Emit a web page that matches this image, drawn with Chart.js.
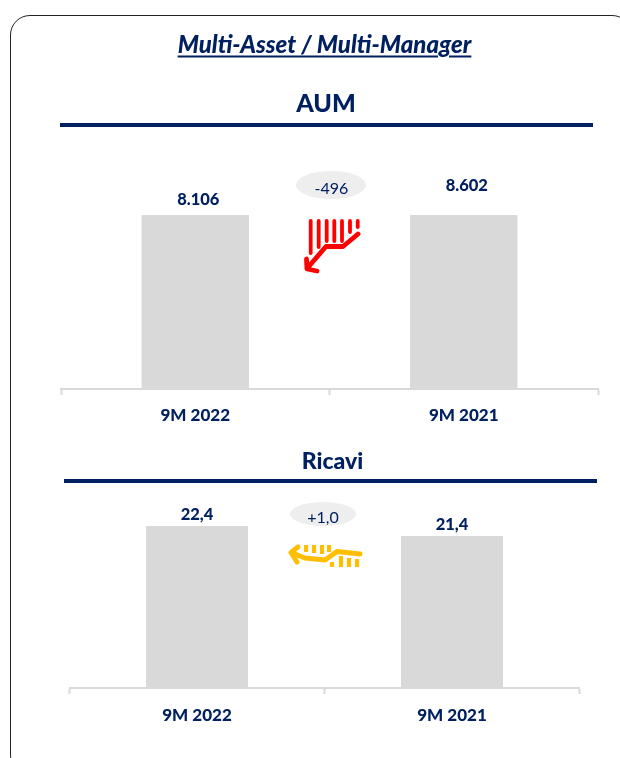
<!DOCTYPE html>
<html lang="it">
<head>
<meta charset="utf-8">
<script src="https://cdn.jsdelivr.net/npm/chart.js@4"></script>
<style>
  html,body{margin:0;padding:0;background:#fff}
  #page{position:relative;width:620px;height:758px;overflow:hidden;font-family:Lato,sans-serif;color:#002060}
  #frame{position:absolute;left:10px;top:15px;width:622px;height:760px;border:1.4px solid #222;border-radius:20px;box-sizing:border-box}
  canvas{position:absolute;left:0}
  .t{position:absolute;text-align:center;white-space:nowrap;transform:translate(-50%,-50%)}
  .rule{position:absolute;background:#002060}
  .oval{position:absolute;background:#eeeeee;border-radius:50%}
  svg{position:absolute;left:0;top:0}
</style>
</head>
<body>
<div id="page">
  <div id="frame"></div>
  <canvas id="aumChart" width="620" height="430" style="top:0;width:620px;height:430px"></canvas>
  <canvas id="ricaviChart" width="620" height="328" style="top:430px;width:620px;height:328px"></canvas>

  <div class="t" style="left:324.5px;top:43px;font:italic 900 24px Lato,sans-serif;text-decoration:underline;text-decoration-thickness:2px;text-underline-offset:3px">Multi-Asset / Multi-Manager</div>
  <div class="t" style="left:326px;top:102px;font:900 25px Lato,sans-serif">AUM</div>
  <div class="rule" style="left:60px;top:123px;width:533px;height:4px"></div>
  <div class="t" style="left:332.5px;top:460px;font:900 23px Lato,sans-serif">Ricavi</div>
  <div class="rule" style="left:64px;top:479px;width:533px;height:4px"></div>

  <div class="oval" style="left:296px;top:171px;width:70px;height:28px"></div>
  <div class="t" style="left:331.5px;top:187px;font:400 16px Lato,sans-serif">-496</div>
  <div class="oval" style="left:290px;top:502px;width:66px;height:24px"></div>
  <div class="t" style="left:323px;top:516px;font:400 16px Lato,sans-serif">+1,0</div>

  <svg width="620" height="758" viewBox="0 0 620 758">
    <g stroke="#ff0000" fill="none" stroke-linecap="round" stroke-linejoin="round">
      <g stroke-width="3.8">
        <path d="M310.7 221V253M318.7 221V247M326.7 221V241M334.3 221V241M342 221V241M350 221V232M357.7 221V227"/>
      </g>
      <path stroke-width="4.8" d="M358 234L343 246.5H326L307 268.5M306.5 259L307 269L317 271"/>
    </g>
    <g stroke="#ffbf00" fill="none" stroke-linejoin="round">
      <g stroke-width="4.2">
        <path d="M306 545V552M314 545V553M322 545V554M329 545V552M332 562V567M341 556V567M349 558V567M357 559V567"/>
      </g>
      <path stroke-width="5" stroke-linecap="round" d="M360 554L337 551.5L325 560L305 558L291 552.5M298 547L291 552.5L297 562"/>
    </g>
  </svg>
</div>
<script>
const categories = ['9M 2022', '9M 2021'];
const aumValues = [8106, 8602];
const aumLabels = ['8.106', '8.602'];
const ricaviCategories = ['9M 2022', '9M 2021'];
const ricaviValues = [22.4, 21.4];
const ricaviLabels = ['22,4', '21,4'];

const NAVY = '#002060', GREY = '#d9d9d9';

const valueLabels = {
  id: 'valueLabels',
  afterDatasetsDraw(chart, args, opts) {
    const { ctx } = chart;
    const meta = chart.getDatasetMeta(0);
    const y = chart.scales.y;
    ctx.save();
    ctx.font = '900 16.5px Lato, sans-serif';
    ctx.fillStyle = NAVY;
    ctx.textAlign = 'center';
    ctx.textBaseline = 'middle';
    meta.data.forEach((bar, i) => {
      ctx.fillText(opts.labels[i], bar.x + opts.dx, y.getPixelForValue(chart.data.datasets[0].data[i]) - opts.offset);
    });
    ctx.restore();
  }
};

function makeChart(id, labels, values, texts, cfg) {
  return new Chart(document.getElementById(id), {
    type: 'bar',
    data: { labels, datasets: [{ data: values, backgroundColor: GREY, borderWidth: 0, barPercentage: 0.4, categoryPercentage: 1 }] },
    plugins: [valueLabels],
    options: {
      responsive: false,
      animation: false,
      layout: { padding: cfg.padding },
      plugins: {
        legend: { display: false },
        tooltip: { enabled: false },
        title: { display: false },
        valueLabels: { labels: texts, offset: cfg.offset, dx: cfg.dx }
      },
      scales: {
        x: {
          afterFit(s) { s.height = cfg.axisHeight; },
          border: { color: GREY, width: 2 },
          grid: { drawOnChartArea: false, drawTicks: true, tickLength: 6, tickColor: GREY, tickWidth: 2 },
          ticks: { color: NAVY, font: { family: 'Lato, sans-serif', size: 17, weight: '900' }, padding: cfg.tickPad, maxRotation: 0 }
        },
        y: { display: false, min: cfg.min, max: cfg.max }
      }
    }
  });
}

makeChart('aumChart', categories, aumValues, aumLabels, {
  padding: { left: 61, right: 22, top: 215, bottom: 0 },
  axisHeight: 41, min: 1941, max: 8106, offset: 15, dx: 3, tickPad: 10
});
makeChart('ricaviChart', ricaviCategories, ricaviValues, ricaviLabels, {
  padding: { left: 69.5, right: 40.5, top: 96, bottom: 0 },
  axisHeight: 70, min: 6.2, max: 22.4, offset: 11, dx: 0, tickPad: 11
});
</script>
</body>
</html>
